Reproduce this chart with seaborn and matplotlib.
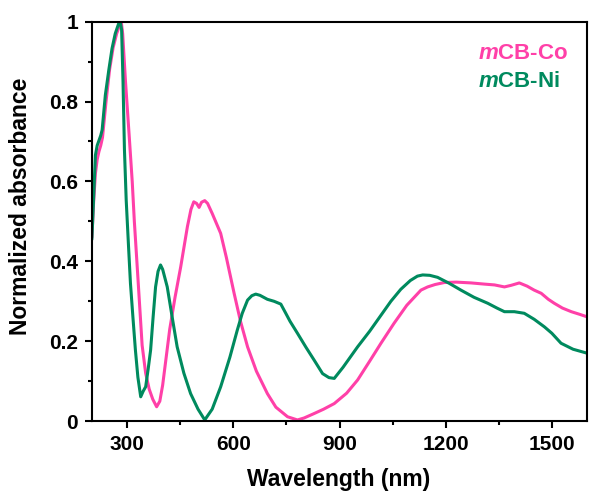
import numpy as np
import pandas as pd
import matplotlib
matplotlib.use("Agg")
import matplotlib.pyplot as plt
import seaborn as sns
from matplotlib.ticker import MultipleLocator

co_x = [200, 205, 210, 215, 220, 225, 230, 240, 250, 260, 270, 278, 283, 287, 295, 305, 314, 320, 330, 342,
        352, 362, 372, 383, 392, 400, 410, 420, 435, 451, 470, 480, 488, 496, 503, 510, 519, 527, 540, 564,
        580, 602, 620, 640, 665, 696, 720, 753, 781, 800, 828, 855, 885, 920, 951, 985, 1017, 1054, 1090, 1130,
        1149, 1170, 1196, 1230, 1272, 1310, 1338, 1366, 1385, 1408, 1430, 1450, 1470, 1490, 1507, 1530, 1555, 1580, 1600]
co_y = [0.46, 0.55, 0.62, 0.655, 0.675, 0.69, 0.71, 0.80, 0.88, 0.935, 0.97, 0.99, 1.0, 0.97, 0.85, 0.72, 0.60, 0.50, 0.36, 0.19,
        0.12, 0.08, 0.055, 0.036, 0.05, 0.09, 0.16, 0.23, 0.31, 0.386, 0.487, 0.53, 0.549, 0.545, 0.535, 0.548, 0.552, 0.545, 0.52, 0.47,
        0.41, 0.32, 0.25, 0.186, 0.125, 0.069, 0.035, 0.011, 0.003, 0.008, 0.019, 0.03, 0.044, 0.07, 0.103, 0.15, 0.195, 0.245, 0.29, 0.328,
        0.336, 0.342, 0.347, 0.348, 0.346, 0.343, 0.341, 0.336, 0.34, 0.346, 0.338, 0.328, 0.32, 0.305, 0.295, 0.283, 0.274, 0.267, 0.261]

ni_x = [200, 205, 210, 215, 219, 225, 229, 238, 248, 257, 266, 276, 280, 284, 288, 292, 297, 304, 309, 316,
        323, 330, 338, 345, 352, 359, 366, 373, 380, 387, 394, 400, 413, 427, 441, 460, 479, 500, 519, 540,
        564, 590, 611, 625, 640, 652, 663, 675, 696, 715, 734, 748, 760, 781, 805, 828, 852, 870, 885, 910, 951, 985,
        1017, 1045, 1073, 1100, 1120, 1135, 1155, 1177, 1210, 1243, 1280, 1319, 1345, 1366, 1394, 1422, 1450, 1479, 1500, 1526, 1560, 1600]
ni_y = [0.455, 0.56, 0.666, 0.69, 0.70, 0.715, 0.729, 0.816, 0.88, 0.933, 0.97, 0.996, 1.0, 0.98, 0.85, 0.68, 0.553, 0.43, 0.345, 0.26,
        0.178, 0.11, 0.061, 0.075, 0.086, 0.13, 0.178, 0.26, 0.336, 0.375, 0.391, 0.38, 0.336, 0.26, 0.186, 0.12, 0.069, 0.03, 0.003, 0.03,
        0.086, 0.16, 0.228, 0.27, 0.303, 0.314, 0.318, 0.315, 0.305, 0.30, 0.293, 0.27, 0.25, 0.22, 0.185, 0.153, 0.119, 0.109, 0.107, 0.135, 0.186, 0.225,
        0.265, 0.30, 0.33, 0.352, 0.363, 0.366, 0.365, 0.36, 0.345, 0.328, 0.31, 0.295, 0.283, 0.274, 0.274, 0.27, 0.255, 0.236, 0.22, 0.195, 0.18, 0.17]

labels = [r"$\mathit{m}$CB-Co", r"$\mathit{m}$CB-Ni"]
colors = ["#FF40A8", "#008A5E"]

df = pd.concat([
    pd.DataFrame({"Wavelength": co_x, "Abs": co_y, "Sample": labels[0]}),
    pd.DataFrame({"Wavelength": ni_x, "Abs": ni_y, "Sample": labels[1]}),
])

sns.set_theme(style="ticks")
plt.rcParams["font.family"] = ["Liberation Sans", "DejaVu Sans"]
plt.rcParams["font.weight"] = "bold"
plt.rcParams["text.color"] = "black"
plt.rcParams["axes.labelcolor"] = "black"
plt.rcParams["xtick.color"] = "black"
plt.rcParams["ytick.color"] = "black"
plt.rcParams["mathtext.fontset"] = "custom"
plt.rcParams["mathtext.it"] = "Liberation Sans:italic:bold"
plt.rcParams["mathtext.rm"] = "Liberation Sans:bold"

fig = plt.figure(figsize=(5.89, 4.92), dpi=100)
ax = fig.add_axes([0.156, 0.144, 0.841, 0.812])

sns.lineplot(data=df, x="Wavelength", y="Abs", hue="Sample", palette=colors,
             linewidth=2.2, ax=ax, sort=False, estimator=None, legend=False)

ax.set_xlim(200, 1600)
ax.set_ylim(0, 1)
ax.xaxis.set_minor_locator(MultipleLocator(150))
ax.yaxis.set_minor_locator(MultipleLocator(0.1))
ax.set_yticks([0, 0.2, 0.4, 0.6, 0.8, 1.0])
ax.set_yticklabels(["0", "0.2", "0.4", "0.6", "0.8", "1"])
ax.set_xticks([300, 600, 900, 1200, 1500])
ax.set_xticklabels(["300", "600", "900", "1200", "1500"])

for s in ax.spines.values():
    s.set_visible(True)
    s.set_linewidth(1.5)
    s.set_color("black")
ax.tick_params(which="major", direction="out", length=5, width=1.5, labelsize=15,
               color="black", labelcolor="black", pad=5)
ax.tick_params(which="minor", direction="out", length=3, width=1.5, color="black")
for t in ax.get_xticklabels() + ax.get_yticklabels():
    t.set_fontweight("bold")

ax.set_xlabel("Wavelength (nm)", fontsize=16.5, fontweight="bold", color="black")
ax.set_ylabel("Normalized absorbance", fontsize=16.5, fontweight="bold", va="center", color="black")
ax.xaxis.set_label_coords(0.499, -0.118)
ax.yaxis.set_label_coords(-0.145, 0.538)

ax.text(0.78, 0.92, labels[0], color=colors[0], fontsize=16, fontweight="bold",
        transform=ax.transAxes, va="center", ha="left")
ax.text(0.78, 0.85, labels[1], color=colors[1], fontsize=16, fontweight="bold",
        transform=ax.transAxes, va="center", ha="left")

fig.savefig("out.png", dpi=100, facecolor="white")
